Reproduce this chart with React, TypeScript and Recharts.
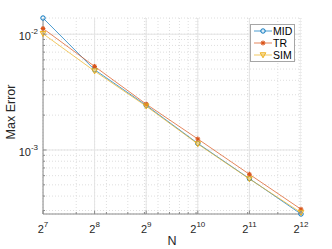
import React from 'react';
import { LineChart, Line, XAxis, YAxis, CartesianGrid, ReferenceLine, Legend } from 'recharts';

const N = [128, 256, 512, 1024, 2048, 4096];
const MID = [0.0138, 0.00493, 0.00243, 0.00114, 0.000566, 0.00028];
const TR = [0.0112, 0.00527, 0.00249, 0.001245, 0.000617, 0.000308];
const SIM = [0.0101, 0.0048, 0.00239, 0.001127, 0.000562, 0.000288];

const X_MAJOR = [128, 256, 512, 1024, 2048, 4096];
const X_EXP = ['7', '8', '9', '10', '11', '12'];
const X_MINOR = [200, 300, 400, 500, 600, 700, 800, 900, 1000, 2000, 3000, 4000];
const Y_MAJOR = [0.001, 0.01];
const Y_EXP = ['-3', '-2'];
const Y_MINOR = [0.0003, 0.0004, 0.0005, 0.0006, 0.0007, 0.0008, 0.0009, 0.002, 0.003, 0.004, 0.005, 0.006, 0.007, 0.008, 0.009];

const X_DOMAIN = [128, 4096];
const Y_DOMAIN = [0.00028, 0.0138];

const SERIES = [
  { key: 'mid', name: 'MID', color: '#0072BD', marker: 'circle' },
  { key: 'tr', name: 'TR', color: '#D95319', marker: 'star' },
  { key: 'sim', name: 'SIM', color: '#EDB120', marker: 'tri' },
];

const data = N.map((n, i) => ({ n, mid: MID[i], tr: TR[i], sim: SIM[i] }));

const FONT = '"Liberation Sans", Arial, Helvetica, sans-serif';
const TEXT = '#262626';
const AXIS = '#8a8a8a';

const xTicks = [...X_MAJOR, ...X_MINOR].sort((a, b) => a - b);
const yTicks = [...Y_MAJOR, ...Y_MINOR].sort((a, b) => a - b);

function Marker({ type, cx, cy, color }: { type: string; cx: number; cy: number; color: string }) {
  if (cx == null || cy == null) return null;
  if (type === 'circle') {
    return <circle cx={cx} cy={cy} r={2.2} fill="#fff" fillOpacity={0.6} stroke={color} strokeWidth={1} />;
  }
  if (type === 'star') {
    const s = 2.4;
    const d = s * 0.7;
    return (
      <g stroke={color} strokeWidth={1.1}>
        <line x1={cx - s} y1={cy} x2={cx + s} y2={cy} />
        <line x1={cx} y1={cy - s} x2={cx} y2={cy + s} />
        <line x1={cx - d} y1={cy - d} x2={cx + d} y2={cy + d} />
        <line x1={cx - d} y1={cy + d} x2={cx + d} y2={cy - d} />
      </g>
    );
  }
  const s = 2.8;
  return (
    <polygon
      points={`${cx - s},${cy - s * 0.8} ${cx + s},${cy - s * 0.8} ${cx},${cy + s}`}
      fill={color}
      fillOpacity={0.35}
      stroke={color}
      strokeWidth={1}
    />
  );
}

const XTick = (props: any) => {
  const { x, y, payload } = props;
  const v = payload.value;
  const idx = X_MAJOR.indexOf(v);
  const major = idx >= 0;
  return (
    <g>
      <line x1={x} x2={x} y1={y} y2={y - (major ? 3.5 : 2)} stroke={AXIS} strokeWidth={1} />
      {major && (
        <text x={x} y={y + 19} textAnchor="middle" fontSize={11} fill={TEXT} fontFamily={FONT}>
          2<tspan dy={-6} fontSize={8}>{X_EXP[idx]}</tspan>
        </text>
      )}
    </g>
  );
};

const YTick = (props: any) => {
  const { x, y, payload } = props;
  const v = payload.value;
  const idx = Y_MAJOR.indexOf(v);
  const major = idx >= 0;
  return (
    <g>
      <line x1={x} x2={x + (major ? 3.5 : 2)} y1={y} y2={y} stroke={AXIS} strokeWidth={1} />
      {major && (
        <text x={x - 5} y={y + 6} textAnchor="end" fontSize={11} fill={TEXT} fontFamily={FONT}>
          10<tspan dy={-6} fontSize={8}>{Y_EXP[idx]}</tspan>
        </text>
      )}
    </g>
  );
};

const YLabel = (props: any) => {
  const vb = props.viewBox || {};
  const cx = (vb.x || 0) + 15;
  const cy = (vb.y || 0) + (vb.height || 0) / 2 - 4;
  return (
    <text
      x={cx}
      y={cy}
      transform={`rotate(-90 ${cx} ${cy})`}
      textAnchor="middle"
      fontSize={12.5}
      fill={TEXT}
      fontFamily={FONT}
    >
      Max Error
    </text>
  );
};

const LegendBox = () => (
  <div
    style={{
      border: '1px solid #a6a6a6',
      background: '#fff',
      fontFamily: FONT,
      fontSize: 10.5,
      color: '#000',
      lineHeight: '12px',
      padding: '0 2px 0 0',
    }}
  >
    {SERIES.map((s) => (
      <div key={s.key} style={{ display: 'flex', alignItems: 'center', height: 12 }}>
        <svg width={22} height={12} style={{ display: 'block' }}>
          <line x1={3} x2={21} y1={6} y2={6} stroke={s.color} strokeWidth={0.7} />
          <Marker type={s.marker} cx={12} cy={6} color={s.color} />
        </svg>
        <span>{s.name}</span>
      </div>
    ))}
  </div>
);

export default function App() {
  return (
    <div style={{ position: 'absolute', left: 0, top: 0 }}>
      <LineChart
        width={332}
        height={249}
        data={data}
        margin={{ top: 18, right: 31, bottom: 0, left: 0 }}
        style={{ background: '#fff' }}
      >
        <CartesianGrid stroke="#dedede" strokeDasharray="1 2" />
        {X_MAJOR.map((v) => (
          <ReferenceLine key={'xv' + v} x={v} stroke="#e4e4e4" strokeWidth={1} ifOverflow="hidden" />
        ))}
        {Y_MAJOR.map((v) => (
          <ReferenceLine key={'yv' + v} y={v} stroke="#e4e4e4" strokeWidth={1} ifOverflow="hidden" />
        ))}
        <XAxis
          dataKey="n"
          type="number"
          scale="log"
          domain={X_DOMAIN}
          ticks={xTicks}
          interval={0}
          tick={<XTick />}
          tickLine={false}
          tickSize={0}
          tickMargin={0}
          height={35}
          stroke={AXIS}
          label={{ value: 'N', position: 'insideBottom', offset: 4, fontSize: 12.5, fill: TEXT, fontFamily: FONT }}
        />
        <YAxis
          type="number"
          scale="log"
          domain={Y_DOMAIN}
          ticks={yTicks}
          interval={0}
          tick={<YTick />}
          tickLine={false}
          tickSize={0}
          tickMargin={0}
          width={43}
          stroke={AXIS}
          label={<YLabel />}
        />
        <Legend
          layout="horizontal"
          align="center"
          verticalAlign="middle"
          content={<LegendBox />}
          wrapperStyle={{ position: 'absolute', left: 250, top: 24, width: 'auto', height: 'auto' }}
        />
        {SERIES.map((s) => (
          <Line
            key={s.key}
            dataKey={s.key}
            name={s.name}
            stroke={s.color}
            strokeWidth={0.7}
            isAnimationActive={false}
            dot={(p: any) => <Marker key={s.key + p.index} type={s.marker} cx={p.cx} cy={p.cy} color={s.color} />}
            activeDot={false}
          />
        ))}
      </LineChart>
    </div>
  );
}
